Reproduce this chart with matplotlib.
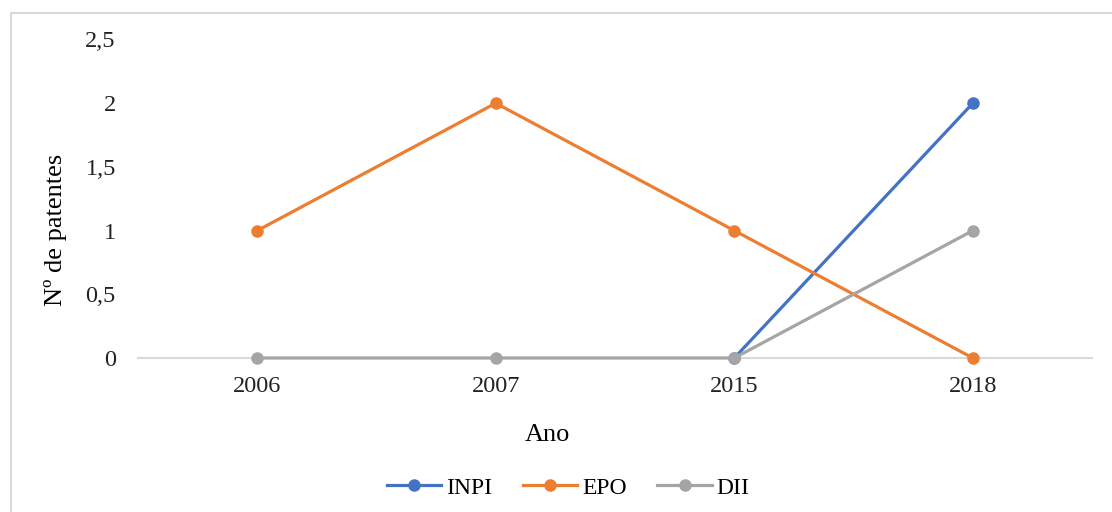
import matplotlib
matplotlib.use('Agg')
import matplotlib.pyplot as plt
from matplotlib.patches import Rectangle
from matplotlib.ticker import FuncFormatter

plt.rcParams['font.family'] = ['Liberation Serif', 'DejaVu Serif']

anos = ['2006', '2007', '2015', '2018']
inpi = [None, None, 0, 2]
epo = [1, 2, 1, 0]
dii = [0, 0, 0, 1]

cores = {'INPI': '#4472C4', 'EPO': '#ED7D31', 'DII': '#A5A5A5'}

fig = plt.figure(figsize=(11.12, 5.12), dpi=100)
ax = fig.add_axes([0.1241, 0.3008, 0.858, 0.6221])

x = list(range(len(anos)))
for nome, serie in [('INPI', inpi), ('EPO', epo), ('DII', dii)]:
    xs = [i for i, v in zip(x, serie) if v is not None]
    ys = [v for v in serie if v is not None]
    ax.plot(xs, ys, color=cores[nome], lw=2.3, marker='o', markersize=8,
            label=nome, zorder=3, clip_on=False)

ax.set_xlim(-0.5, len(anos) - 0.5)
ax.set_ylim(0, 2.5)
ax.set_xticks(x)
ax.set_xticklabels(anos)
ax.set_yticks([0, 0.5, 1, 1.5, 2, 2.5])
ax.yaxis.set_major_formatter(FuncFormatter(lambda v, p: ('%g' % v).replace('.', ',')))
ax.tick_params(length=0, labelsize=17.5, colors='#222222')
ax.tick_params(axis='x', pad=13)
ax.tick_params(axis='y', pad=16)

for lado in ['top', 'right', 'left']:
    ax.spines[lado].set_visible(False)
ax.spines['bottom'].set_color('#D9D9D9')
ax.spines['bottom'].set_linewidth(1.5)
ax.spines['bottom'].set_zorder(1)

ax.set_xlabel('Ano', fontsize=19, va='center')
ax.xaxis.set_label_coords(0.429, -0.242)
ax.set_ylabel('Nº de patentes', fontsize=19, va='center')
ax.yaxis.set_label_coords(-0.086, 0.402)

ax.legend(loc='center', bbox_to_anchor=(0.451, -0.408), ncol=3, frameon=False,
          fontsize=17, handlelength=2.3, columnspacing=1.3, handletextpad=0.2)

# moldura do gráfico
fig.add_artist(Rectangle((0.0099, -0.05), 1.2, 0.9746 + 0.05, transform=fig.transFigure,
                         fill=False, edgecolor='#D9D9D9', lw=1.5))

plt.savefig('out.png', dpi=100)
